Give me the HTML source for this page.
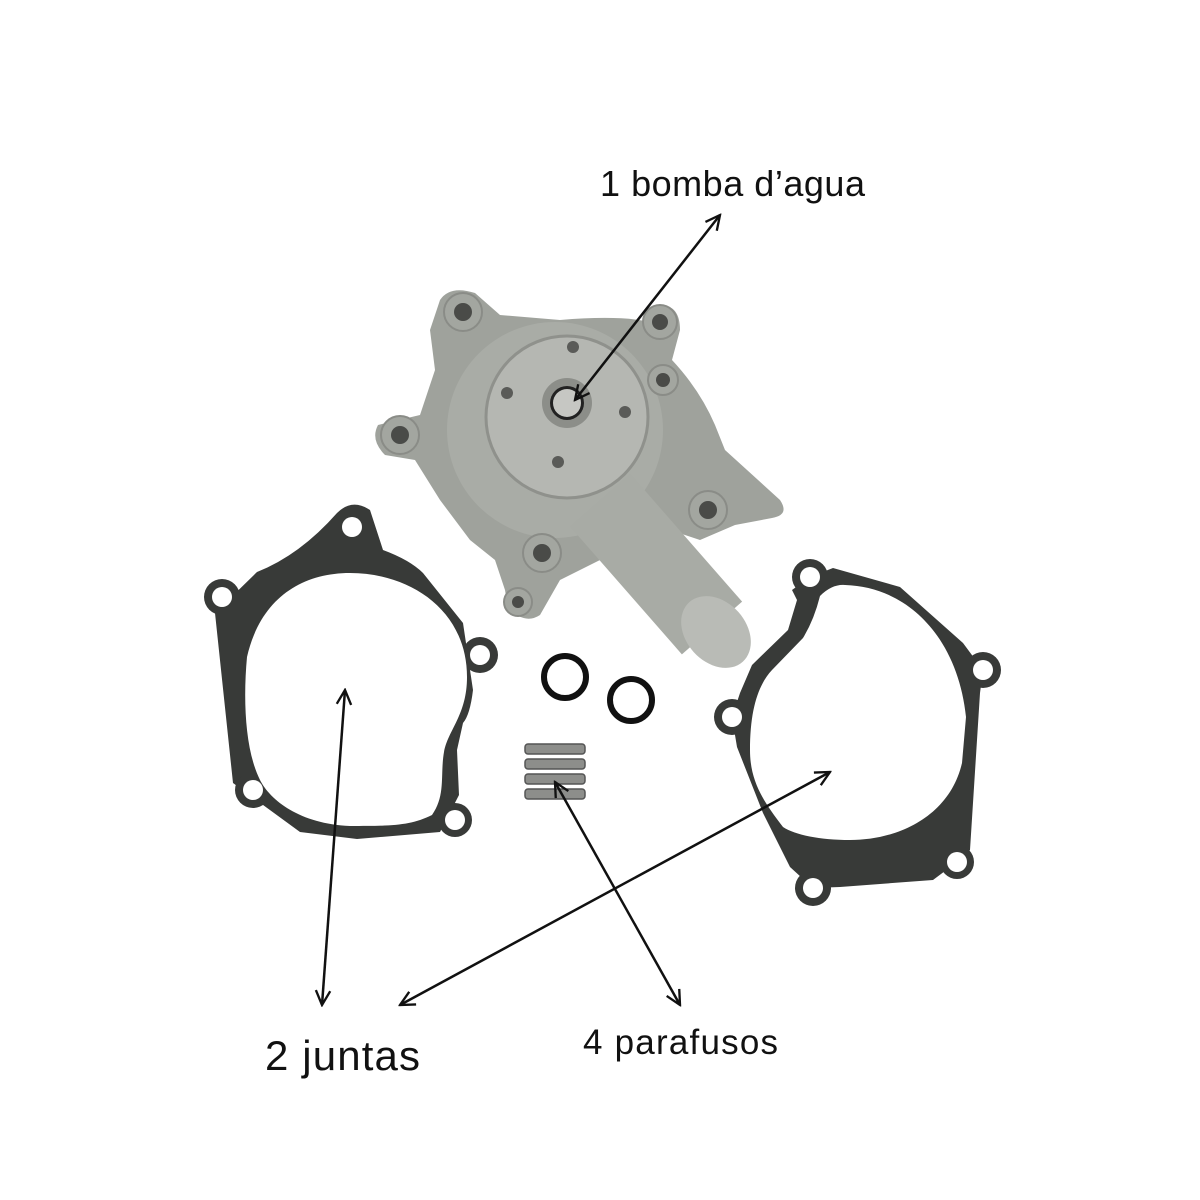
<!DOCTYPE html>
<html><head><meta charset="utf-8"><style>
html,body{margin:0;padding:0;background:#fff;}
svg{display:block;}
text{font-family:"Liberation Sans",sans-serif;fill:#111;}
</style></head><body>
<svg width="1200" height="1200" viewBox="0 0 1200 1200" xmlns="http://www.w3.org/2000/svg">
<defs>
<marker id="ah" viewBox="0 0 20 20" refX="18" refY="10" markerWidth="18" markerHeight="18" markerUnits="userSpaceOnUse" orient="auto-start-reverse">
<path d="M2,2 L18,10 L2,18" fill="none" stroke="#111" stroke-width="2.6"/>
</marker>
</defs>
<rect width="1200" height="1200" fill="#fff"/>

<!-- left gasket -->
<g fill="#383a38">
<path d="M337,513 Q352,498 370,510 L383,550 Q410,560 423,573 L463,623 L473,690 Q470,715 463,723 L457,750 L459,795 L440,832 L357,839 L300,832 L233,783 L215,613 L257,572 Q300,555 337,513 Z"/>
<circle cx="352" cy="527" r="18"/><circle cx="222" cy="597" r="18"/><circle cx="480" cy="655" r="18"/>
<circle cx="253" cy="790" r="18"/><circle cx="455" cy="820" r="17"/>
</g>
<path d="M247,657 C260,600 300,573 350,573 C410,573 467,610 467,677 C467,715 448,730 444,752 C440,775 446,795 432,815 C410,826 390,826 350,826 C300,824 270,800 260,780 C245,750 243,700 247,657 Z" fill="#fff"/>
<g fill="#fff">
<circle cx="352" cy="527" r="10"/><circle cx="222" cy="597" r="10"/><circle cx="480" cy="655" r="10"/>
<circle cx="253" cy="790" r="10"/><circle cx="455" cy="820" r="10"/>
</g>

<!-- right gasket -->
<g fill="#383a38">
<path d="M810,577 L833,568 L900,587 L963,643 L983,670 L980,693 L970,850 L957,862 L933,880 L840,887 L813,888 L790,867 L763,813 L737,747 L732,717 L740,693 L752,665 L788,630 L797,600 L792,590 Z"/>
<circle cx="810" cy="577" r="18"/><circle cx="983" cy="670" r="18"/><circle cx="732" cy="717" r="18"/>
<circle cx="957" cy="862" r="17"/><circle cx="813" cy="888" r="18"/>
</g>
<path d="M820,596 Q832,584 845,585 C910,587 958,640 966,717 L962,763 C950,815 900,840 850,840 C820,840 795,835 783,827 C762,800 750,780 750,750 C750,710 758,685 772,670 L803,638 Q814,620 820,596 Z" fill="#fff"/>
<g fill="#fff">
<circle cx="810" cy="577" r="10"/><circle cx="983" cy="670" r="10"/><circle cx="732" cy="717" r="10"/>
<circle cx="957" cy="862" r="10"/><circle cx="813" cy="888" r="10"/>
</g>

<!-- pump -->
<g>
<path d="M440,300 Q450,285 475,293 L500,315 L560,320 Q620,315 650,322 L660,305 Q680,305 680,330 L672,360 Q700,390 715,425 L725,450 L780,500 Q790,515 772,518 L735,525 L700,540 L670,530 L640,570 L600,560 L560,580 L540,615 Q525,625 508,608 L505,590 L495,560 L470,540 L440,500 L415,460 L385,455 Q370,440 378,425 L420,415 L435,370 L430,330 Z" fill="#9fa29c"/>
<circle cx="555" cy="430" r="108" fill="#a9aca6"/>
<line x1="600" y1="500" x2="712" y2="628" stroke="#a8aba5" stroke-width="80"/>
<ellipse cx="716" cy="632" rx="30" ry="40" fill="#b9bbb6" transform="rotate(-42 716 632)"/>
<circle cx="567" cy="417" r="81" fill="#b5b7b2" stroke="#8f918c" stroke-width="3"/>
<circle cx="567" cy="403" r="25" fill="#8c8e89"/>
<circle cx="567" cy="403" r="17" fill="#222"/>
<circle cx="567" cy="403" r="14" fill="#c6c7c3"/>
<g fill="#5a5b58"><circle cx="573" cy="347" r="6"/><circle cx="625" cy="412" r="6"/><circle cx="558" cy="462" r="6"/><circle cx="507" cy="393" r="6"/></g>
<g fill="#a3a6a0" stroke="#8a8c87" stroke-width="2">
<circle cx="463" cy="312" r="19"/><circle cx="660" cy="322" r="17"/><circle cx="663" cy="380" r="15"/>
<circle cx="400" cy="435" r="19"/><circle cx="708" cy="510" r="19"/><circle cx="542" cy="553" r="19"/><circle cx="518" cy="602" r="14"/>
</g>
<g fill="#4a4b48">
<circle cx="463" cy="312" r="9"/><circle cx="660" cy="322" r="8"/><circle cx="663" cy="380" r="7"/>
<circle cx="400" cy="435" r="9"/><circle cx="708" cy="510" r="9"/><circle cx="542" cy="553" r="9"/><circle cx="518" cy="602" r="6"/>
</g>
</g>

<!-- o-rings -->
<circle cx="565" cy="677" r="21" fill="none" stroke="#111" stroke-width="6"/>
<circle cx="631" cy="700" r="21" fill="none" stroke="#111" stroke-width="6"/>

<!-- studs -->
<g fill="#8d8e8b" stroke="#555" stroke-width="1.5">
<rect x="525" y="744" width="60" height="10" rx="3"/>
<rect x="525" y="759" width="60" height="10" rx="3"/>
<rect x="525" y="774" width="60" height="10" rx="3"/>
<rect x="525" y="789" width="60" height="10" rx="3"/>
</g>

<!-- arrows -->
<g stroke="#111" stroke-width="2.5" fill="none">
<line x1="575" y1="400" x2="720" y2="215" marker-start="url(#ah)" marker-end="url(#ah)"/>
<line x1="345" y1="690" x2="322" y2="1005" marker-start="url(#ah)" marker-end="url(#ah)"/>
<line x1="400" y1="1005" x2="830" y2="772" marker-start="url(#ah)" marker-end="url(#ah)"/>
<line x1="555" y1="782" x2="680" y2="1005" marker-start="url(#ah)" marker-end="url(#ah)"/>
</g>

<text x="600" y="196" font-size="36" textLength="265">1 bomba d’agua</text>
<text x="265" y="1070" font-size="42" textLength="155">2 juntas</text>
<text x="583" y="1054" font-size="35" textLength="195">4 parafusos</text>
</svg>
</body></html>
